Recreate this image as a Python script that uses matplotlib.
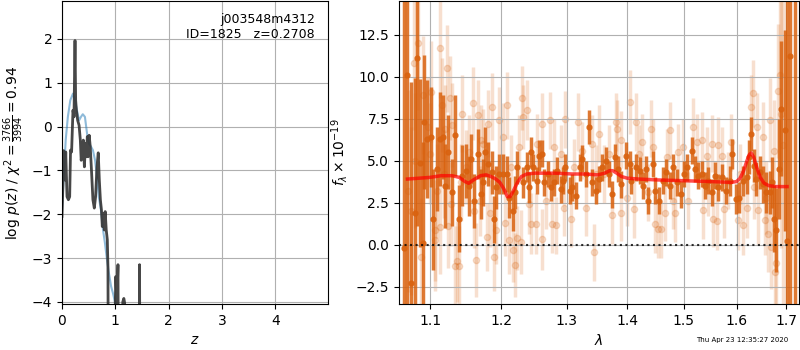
import matplotlib
matplotlib.use('Agg')
import matplotlib.pyplot as plt
import numpy as np

# p(z) panel
z_pz = [0.0, 0.02, 0.03, 0.056, 0.07, 0.094, 0.12, 0.144, 0.16, 0.18,
        0.206, 0.225, 0.244, 0.256, 0.27, 0.294, 0.32, 0.344, 0.36, 0.38,
        0.40, 0.42, 0.44, 0.456, 0.475, 0.49, 0.51, 0.53, 0.556, 0.58,
        0.606, 0.63, 0.656, 0.68, 0.70, 0.72, 0.74, 0.756, 0.775, 0.794,
        0.81, 0.83, 0.85, 0.862, 0.875, 0.99, 1.0, 1.01, 1.03, 1.05,
        1.065, 1.08, 1.13, 1.14, 1.16, 1.175, 1.19, 1.445, 1.455, 1.465,
        1.48, 1.5, 4.99]
logp = [-2.05, -1.22, -0.55, -1.22, -0.58, -1.6, -1.67, -1.6, -0.54, -0.58,
        0.37, 0.22, 1.96, 0.6, 0.37, 0.14, 0.03, -0.31, -0.77, -0.58,
        -0.31, -0.92, -0.39, -0.69, -0.23, -0.69, -0.2, -0.46, -1.07, -1.67,
        -1.86, -1.6, -0.92, -0.6, -1.22, -1.67, -1.9, -2.28, -1.98, -2.36,
        -1.94, -2.36, -2.58, -3.2, -8, -8, -4.0, -3.42, -4.02, -3.15,
        -8, -8, -8, -4.0, -3.92, -4.02, -8, -8, -3.15, -8,
        -8, -8, -8]

z_prior = [0.0, 0.03, 0.07, 0.11, 0.156, 0.206, 0.244, 0.28, 0.32, 0.356,
           0.39, 0.43, 0.47, 0.506, 0.544, 0.58, 0.62, 0.656, 0.69, 0.73,
           0.77, 0.806, 0.844, 0.88, 0.92, 0.956, 0.99, 1.02, 1.05]
logp_prior = [-1.9, -1.2, -0.3, 0.22, 0.6, 0.75, 0.6, 0.37, 0.14, 0.22,
              0.28, 0.22, -0.16, -0.39, -0.46, -0.54, -0.77, -1.14, -1.6, -1.9,
              -2.36, -2.66, -3.04, -3.34, -3.64, -3.8, -3.98, -4.17, -4.4]

# spectrum panel: binned (dark) points
dark_wave = [1.065, 1.069, 1.075, 1.080, 1.083, 1.087, 1.090, 1.092, 1.096, 1.101,
             1.104, 1.109, 1.113, 1.117, 1.120, 1.124, 1.130, 1.134, 1.139, 1.144,
             1.150, 1.154, 1.157, 1.161, 1.166, 1.170, 1.173, 1.177, 1.181, 1.186,
             1.189, 1.193, 1.196, 1.202, 1.209, 1.211, 1.217, 1.221, 1.224, 1.232,
             1.238, 1.241, 1.245, 1.248, 1.253, 1.256, 1.261, 1.265, 1.270, 1.276,
             1.280, 1.285, 1.291, 1.294, 1.298, 1.305, 1.308, 1.315, 1.321, 1.325,
             1.331, 1.336, 1.341, 1.348, 1.353, 1.357, 1.364, 1.369, 1.374, 1.379,
             1.384, 1.390, 1.397, 1.404, 1.407, 1.415, 1.422, 1.427, 1.433, 1.436,
             1.444, 1.449, 1.456, 1.462, 1.467, 1.475, 1.480, 1.487, 1.495, 1.500,
             1.506, 1.515, 1.521, 1.527, 1.534, 1.540, 1.545, 1.553, 1.558, 1.564,
             1.572, 1.579, 1.587, 1.592, 1.598, 1.604, 1.612, 1.620, 1.625, 1.629,
             1.635, 1.639, 1.647, 1.653, 1.659, 1.667, 1.671, 1.676, 1.680, 1.686,
             1.690, 1.698, 1.702, 1.708, 1.718]
dark_flux = [-0.2, 10.1, -2.3, 1.9, 11.1, 4.85, 0.1, 7.3, 6.3, 6.4,
             1.5, 4.5, 6.3, 6.4, 3.5, 5.5, 3.1, 6.5, 1.55, 4.1,
             4.4, 3.5, 5.1, 2.6, 5.4, 3.0, 3.7, 5.5, 4.8, 4.3,
             1.5, 3.4, 4.2, 4.2, 4.2, 2.8, 2.0, 3.1, 4.6, 3.7,
             4.6, 3.4, 5.5, 4.6, 3.8, 5.3, 5.4, 3.7, 4.2, 3.4,
             3.7, 4.4, 3.3, 3.8, 4.6, 3.2, 3.4, 2.9, 4.6, 5.1,
             4.2, 7.0, 3.7, 3.2, 3.9, 4.6, 5.0, 4.2, 3.0, 5.2,
             4.5, 3.6, 5.3, 4.8, 3.8, 4.6, 4.4, 3.5, 4.5, 2.6,
             4.8, 3.2, 2.6, 3.8, 4.3, 3.5, 4.6, 3.7, 3.0, 4.2,
             4.6, 5.6, 4.5, 4.1, 4.2, 3.5, 3.8, 3.1, 4.1, 3.4,
             4.0, 3.2, 3.8, 5.4, 2.7, 2.8, 3.8, 4.0, 5.2, 6.6,
             4.7, 3.9, 4.3, 3.6, 3.1, 3.1, 3.7, 1.55, 0.85, 4.5,
             8.1, 6.8, 0.2, 11.2, -6.0]
dark_err = [20, 15, 12, 8, 10, 5, 6, 4, 3.5, 3.0,
            3.0, 2.5, 2.8, 2.5, 2.5, 2.2, 2.0, 2.4, 2.0, 1.8,
            1.6, 1.8, 1.5, 1.6, 1.5, 1.5, 1.4, 1.5, 1.3, 1.3,
            1.4, 1.3, 1.2, 1.2, 1.1, 1.2, 1.2, 1.0, 1.0, 0.9,
            0.9, 0.9, 0.9, 0.8, 0.8, 0.9, 0.8, 0.8, 0.8, 0.8,
            0.8, 0.8, 0.8, 0.8, 0.8, 0.8, 0.8, 0.8, 0.8, 0.8,
            0.8, 1.0, 0.8, 0.8, 0.8, 0.8, 0.8, 0.8, 0.8, 0.8,
            0.8, 0.8, 0.8, 0.8, 0.8, 0.8, 0.8, 0.8, 0.8, 0.8,
            0.8, 0.8, 0.8, 0.8, 0.8, 0.8, 0.8, 0.8, 0.8, 0.8,
            0.8, 0.8, 0.8, 0.8, 0.8, 0.8, 0.8, 0.8, 0.8, 0.8,
            0.8, 0.8, 0.9, 0.9, 0.9, 0.9, 0.9, 1.0, 1.0, 1.0,
            1.0, 1.0, 1.0, 1.1, 1.2, 1.3, 1.5, 2.0, 2.5, 3.0,
            4.0, 6.0, 20, 20, 25]

# spectrum panel: unbinned (light) points
light_wave = [1.071, 1.075, 1.078, 1.080, 1.084, 1.088, 1.091, 1.097, 1.100, 1.101,
              1.106, 1.107, 1.109, 1.113, 1.114, 1.116, 1.119, 1.120, 1.123, 1.124,
              1.127, 1.129, 1.130, 1.134, 1.137, 1.140, 1.143, 1.144, 1.150, 1.154,
              1.159, 1.160, 1.163, 1.166, 1.169, 1.171, 1.174, 1.179, 1.181, 1.183,
              1.186, 1.190, 1.193, 1.197, 1.202, 1.205, 1.208, 1.212, 1.215, 1.217,
              1.220, 1.224, 1.227, 1.230, 1.231, 1.233, 1.238, 1.242, 1.244, 1.252,
              1.253, 1.261, 1.262, 1.268, 1.273, 1.277, 1.280, 1.283, 1.291, 1.295,
              1.298, 1.307, 1.311, 1.318, 1.325, 1.331, 1.341, 1.344, 1.348, 1.353,
              1.360, 1.369, 1.374, 1.380, 1.382, 1.389, 1.390, 1.399, 1.405, 1.411,
              1.415, 1.420, 1.426, 1.435, 1.442, 1.444, 1.449, 1.453, 1.458, 1.466,
              1.469, 1.475, 1.480, 1.484, 1.489, 1.498, 1.508, 1.517, 1.525, 1.534,
              1.536, 1.543, 1.545, 1.553, 1.555, 1.562, 1.564, 1.572, 1.575, 1.583,
              1.590, 1.602, 1.606, 1.612, 1.620, 1.629, 1.633, 1.635, 1.641, 1.643,
              1.653, 1.657, 1.659, 1.663, 1.667, 1.669, 1.675, 1.678, 1.680, 1.684,
              1.688, 1.690, 1.694]
light_flux = [3.2, 2.0, 10.8, 5.0, 12.0, -0.75, 8.9, 7.0, 5.4, 9.1,
              0.85, 0.25, 3.2, 11.7, 1.05, 8.3, 4.2, 6.9, 10.5, 1.1,
              8.7, 2.4, 7.1, -1.3, -1.0, -1.3, 3.7, 7.8, 4.6, 5.5,
              8.4, 2.0, -0.9, 7.7, 2.6, 6.2, 6.0, 0.45, 7.2, 1.85,
              8.2, -0.75, 0.85, 7.4, 6.4, 1.3, 8.3, 0.25, 4.6, -0.35,
              -1.2, 0.37, 5.8, 0.15, 8.75, 7.6, 8.0, 2.4, 1.25, 1.25,
              6.0, 7.2, 0.3, 2.6, 7.4, 1.2, 5.8, 1.15, 5.4, 2.2,
              7.45, 1.55, 4.6, 7.3, 5.6, 2.2, 6.0, -0.45, 4.2, 6.6,
              4.2, 5.4, 1.75, 7.3, 6.9, 6.25, 1.9, 2.8, 8.5, 2.1,
              7.3, 5.4, 6.1, 3.1, 6.9, 5.8, 1.2, 0.9, 0.9, 1.9,
              5.2, 6.8, 2.6, 1.85, 5.5, 5.8, 2.6, 7.0, 6.1, 6.2,
              2.05, 5.3, 3.4, 6.0, 1.55, 1.4, 5.9, 5.3, 2.1, 3.8,
              6.1, 1.45, 4.2, 1.15, 2.2, 8.2, 9.0, 3.4, 7.0, 2.05,
              6.4, 1.45, 2.8, 0.65, 7.4, -0.15, 5.6, -1.65, -1.1, 9.15,
              10.1, 7.8, 5.95]
light_err = [6, 5, 4, 4, 4, 3.5, 3.5, 3, 3, 3,
             3, 3, 2.8, 3, 2.8, 2.8, 2.6, 2.6, 2.6, 2.5,
             2.5, 2.5, 2.5, 2.4, 2.4, 2.4, 2.3, 2.3, 2.2, 2.2,
             2.2, 2.2, 2.2, 2.1, 2.1, 2.1, 2.1, 2.0, 2.0, 2.0,
             2.0, 2.0, 2.0, 2.0, 2.0, 2.0, 2.0, 2.0, 1.9, 1.9,
             1.9, 1.9, 1.9, 1.9, 1.9, 1.9, 1.8, 1.8, 1.8, 1.8,
             1.8, 1.8, 1.8, 1.7, 1.7, 1.7, 1.7, 1.7, 1.7, 1.7,
             1.7, 1.7, 1.7, 1.7, 1.7, 1.7, 1.7, 1.7, 1.7, 1.7,
             1.7, 1.7, 1.7, 1.7, 1.7, 1.7, 1.7, 1.7, 1.9, 1.7,
             1.7, 1.7, 1.7, 1.7, 1.7, 1.7, 1.7, 1.7, 1.7, 1.7,
             1.7, 1.7, 1.7, 1.7, 1.7, 1.7, 1.7, 1.7, 1.7, 1.7,
             1.7, 1.7, 1.7, 1.7, 1.7, 1.7, 1.7, 1.7, 1.7, 1.7,
             1.7, 1.8, 1.8, 1.8, 1.8, 1.9, 2.0, 1.9, 2.0, 2.0,
             2.1, 2.1, 2.2, 2.3, 2.5, 2.5, 3, 3, 3.5, 4,
             6, 8, 15]

# best-fit model
model_wave = [1.070, 1.085, 1.100, 1.115, 1.130, 1.140, 1.148, 1.153, 1.160, 1.170,
              1.178, 1.185, 1.192, 1.198, 1.204, 1.209, 1.213, 1.218, 1.224, 1.230,
              1.238, 1.250, 1.280, 1.310, 1.330, 1.350, 1.362, 1.370, 1.375, 1.382,
              1.390, 1.400, 1.420, 1.450, 1.500, 1.550, 1.590, 1.600, 1.607, 1.614,
              1.620, 1.625, 1.629, 1.634, 1.640, 1.647, 1.655, 1.665, 1.680, 1.702]
model_flux = [3.9, 3.95, 4.0, 4.1, 4.1, 4.0, 3.75, 3.65, 3.85, 4.1,
              4.15, 4.05, 3.9, 3.7, 3.3, 2.85, 2.85, 3.2, 3.7, 4.05,
              4.2, 4.25, 4.25, 4.2, 4.2, 4.15, 4.25, 4.4, 4.4, 4.25,
              4.05, 3.95, 3.9, 3.85, 3.8, 3.75, 3.7, 3.75, 3.95, 4.4,
              4.95, 5.35, 5.45, 5.2, 4.6, 4.0, 3.65, 3.5, 3.45, 3.45]

wave_ticks = [1.1, 1.2, 1.3, 1.4, 1.5, 1.6, 1.7]

fig = plt.figure(figsize=(8, 3.5), dpi=100)

# --- p(z)
ax = fig.add_axes([0.0775, 0.131, 0.3325, 0.866])
ax.plot(z_prior, logp_prior, color='tab:blue', alpha=0.5, lw=1.5)
ax.plot(z_pz, logp, color='0.2', alpha=0.9, lw=2)
ax.set_xlim(0, 4.99)
ax.set_ylim(-4.05, 2.86)
ax.set_yticks([-4, -3, -2, -1, 0, 1, 2])
ax.set_xticks([0, 1, 2, 3, 4])
ax.grid(True)
ax.set_xlabel('$z$')
ax.set_ylabel(r'log $p(z)$ / $\chi^2=\frac{3766}{3994}=0.94$')
ax.text(0.95, 0.96, 'j003548m4312\nID=1825   z=0.2708', ha='right', va='top',
        transform=ax.transAxes, fontsize=9)

# --- spectrum
ax2 = fig.add_axes([0.49875, 0.131, 0.5, 0.866])
orange = '#d9620f'
ax2.errorbar(light_wave, light_flux, light_err, fmt='o', color=orange, alpha=0.2,
             ms=4.5, elinewidth=2.5, capsize=0, zorder=1)
ax2.errorbar(dark_wave, dark_flux, dark_err, fmt='o', color=orange, alpha=0.85,
             ms=3.5, elinewidth=2.5, capsize=0, zorder=2)
ax2.plot(model_wave, model_flux, color='r', alpha=0.7, lw=2.5, zorder=3)
ax2.axhline(0, color='k', ls=':', lw=1.5, alpha=0.8, zorder=4)
ax2.set_xscale('log')
ax2.set_xlim(1.059, 1.727)
ax2.set_ylim(-3.55, 14.5)
ax2.set_xticks(wave_ticks)
ax2.set_xticklabels([f'{w:.1f}' for w in wave_ticks])
ax2.xaxis.set_minor_locator(matplotlib.ticker.NullLocator())
ax2.grid(True)
ax2.set_xlabel(r'$\lambda$')
ax2.set_ylabel(r'$f_\lambda\times10^{-19}$')

fig.text(0.985, 0.02, 'Thu Apr 23 12:35:27 2020', ha='right', va='bottom', fontsize=5)

fig.savefig('out.png', dpi=100)
